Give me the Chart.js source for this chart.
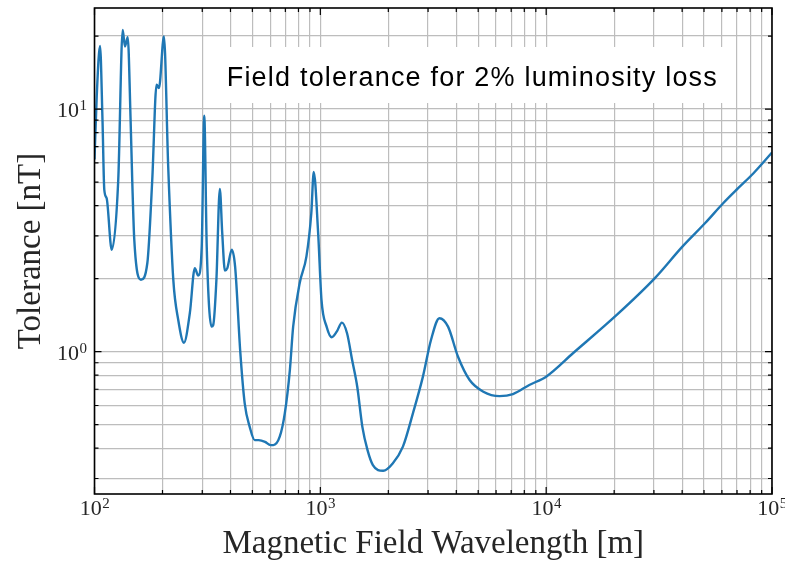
<!DOCTYPE html>
<html>
<head>
<meta charset="utf-8">
<script src="https://cdn.jsdelivr.net/npm/chart.js@4/dist/chart.umd.min.js"></script>
<style>
html, body { margin: 0; padding: 0; background: #fff; }
</style>
</head>
<body>
<canvas id="myChart" width="785" height="561"></canvas>
<script>
// wavelength [m] and tolerance [nT]
let wavelength = [100, 102.3, 105.8, 108.5, 110.5, 113.2, 119.2, 127.4, 133.3, 136.4, 140.3, 144.5, 147, 150,
    160.5, 171.4, 180.2, 188.3, 192.9, 203, 212, 223.3, 234.9, 248.9, 264.4, 278.1, 287.9, 298.4,
    306.2, 314, 329.9, 335.5, 346.6, 358.9, 367.8, 378, 387.4, 405.3, 419.4, 442, 462.5, 486.7,
    512, 533, 569, 602, 619, 661, 696, 733, 758, 810, 868, 912, 935, 978, 1012, 1066, 1123, 1182,
    1246, 1313, 1383, 1457, 1535, 1618, 1709, 1898, 2091, 2321, 2570, 2846, 3090, 3368, 3677,
    4071, 4582, 5269, 6220, 7130, 8420, 10000, 13140, 20530, 30300, 40100, 50600, 60900, 70800,
    82800, 100000];
let tolerance = [6.2, 11.3, 18.2, 9.0, 4.65, 4.29, 2.63, 5.11, 21.2, 18.1, 19.8, 9.0, 5.0, 2.9,
    1.98, 2.32, 5.11, 12.6, 12.2, 19.9, 5.8, 1.98, 1.35, 1.089, 1.445, 2.21, 2.06, 2.71,
    9.38, 2.71, 1.268, 1.288, 1.98, 4.68, 3.08, 2.16, 2.21, 2.63, 2.24, 1.0, 0.612, 0.49,
    0.432, 0.432, 0.425, 0.412, 0.412, 0.446, 0.557, 0.84, 1.268, 1.915, 2.47, 3.72, 5.5, 3.08, 1.63, 1.268, 1.147, 1.209,
    1.317, 1.191, 0.924, 0.717, 0.49, 0.393, 0.341, 0.323, 0.346, 0.406, 0.557, 0.789, 1.117, 1.374, 1.268,
    0.953, 0.764, 0.684, 0.656, 0.669, 0.729, 0.789, 0.985, 1.417, 2.01, 2.71, 3.39, 4.10, 4.72,
    5.44, 6.62];

let xTickValues = [100, 1000, 10000, 100000];
let xTickLabels = ["10^2", "10^3", "10^4", "10^5"];
let yTickValues = [1, 10];
let yTickLabels = ["10^0", "10^1"];

let noteText = "Field tolerance for 2% luminosity loss";

let points = wavelength.map((w, i) => ({x: w, y: tolerance[i]}));

// every 1..9 x 10^n between lo and hi, for the log grid
function logTicks(lo, hi) {
    let out = [];
    for (let e = Math.floor(Math.log10(lo)); e <= Math.ceil(Math.log10(hi)); e++) {
        for (let k = 1; k < 10; k++) {
            let v = k * Math.pow(10, e);
            if (v >= lo * 0.999 && v <= hi * 1.001) out.push(v);
        }
    }
    return out;
}

function isMajor(v) {
    let l = Math.log10(v);
    return Math.abs(l - Math.round(l)) < 1e-6;
}

const serif = "'Liberation Serif', 'DejaVu Serif', serif";
const baseFont = "22px " + serif;
const expFont = "15px " + serif;
const titleFont = {family: serif, size: 33};

// "10^n" drawn as base plus raised exponent; align is 'center' or 'right'
function drawPower(ctx, label, x, baseline, align) {
    let [b, e] = label.split("^");
    ctx.font = baseFont;
    let wb = ctx.measureText(b).width;
    ctx.font = expFont;
    let we = ctx.measureText(e).width;
    let x0 = align === "right" ? x - wb - we : x - (wb + we) / 2;
    ctx.font = baseFont;
    ctx.fillText(b, x0, baseline);
    ctx.font = expFont;
    ctx.fillText(e, x0 + wb + 0.5, baseline - 7);
}

const powerLabels = {
    id: "powerLabels",
    afterDraw(chart) {
        const {ctx, chartArea: a, scales} = chart;
        ctx.save();
        ctx.fillStyle = "#262626";
        ctx.textAlign = "left";
        ctx.textBaseline = "alphabetic";
        xTickValues.forEach((v, i) => {
            drawPower(ctx, xTickLabels[i], scales.x.getPixelForValue(v), a.bottom + 21, "center");
        });
        yTickValues.forEach((v, i) => {
            drawPower(ctx, yTickLabels[i], a.left - 8, scales.y.getPixelForValue(v) + 8, "right");
        });
        ctx.restore();
    }
};

const frameTicks = {
    id: "frameTicks",
    afterDraw(chart) {
        const {ctx, chartArea: a, scales} = chart;
        ctx.save();
        ctx.strokeStyle = "#000";
        ctx.lineWidth = 1.2;
        ctx.beginPath();
        scales.x.ticks.forEach(t => {
            let px = scales.x.getPixelForValue(t.value);
            let len = isMajor(t.value) ? 7 : 4;
            ctx.moveTo(px, a.bottom); ctx.lineTo(px, a.bottom - len);
            ctx.moveTo(px, a.top); ctx.lineTo(px, a.top + len);
        });
        scales.y.ticks.forEach(t => {
            let py = scales.y.getPixelForValue(t.value);
            let len = isMajor(t.value) ? 7 : 4;
            ctx.moveTo(a.left, py); ctx.lineTo(a.left + len, py);
            ctx.moveTo(a.right, py); ctx.lineTo(a.right - len, py);
        });
        ctx.stroke();
        ctx.lineWidth = 1.6;
        ctx.strokeRect(a.left, a.top, a.right - a.left, a.bottom - a.top);
        ctx.restore();
    }
};

const noteBox = {
    id: "noteBox",
    beforeDatasetsDraw(chart) {
        const {ctx, chartArea: a} = chart;
        let w = a.right - a.left;
        let bx = a.left + w * 0.173, by = a.top + 39;
        ctx.save();
        ctx.fillStyle = "#fff";
        ctx.fillRect(bx, by, w * 0.767, 56);
        ctx.fillStyle = "#000";
        ctx.font = "27px 'Liberation Sans', Arial, sans-serif";
        ctx.letterSpacing = "1.2px";
        ctx.textBaseline = "alphabetic";
        ctx.fillText(noteText, bx + 15, by + 39, 495);
        ctx.restore();
    }
};

new Chart("myChart", {
    type: "line",
    data: {
        datasets: [{
            data: points,
            borderColor: "#1f77b4",
            borderWidth: 2.4,
            pointRadius: 0,
            fill: false,
            cubicInterpolationMode: "monotone"
        }]
    },
    options: {
        responsive: false,
        animation: false,
        layout: {padding: {top: 8, right: 13, left: 0, bottom: 0}},
        plugins: {legend: {display: false}, tooltip: {enabled: false}},
        scales: {
            x: {
                type: "logarithmic",
                min: 100,
                max: 100000,
                afterBuildTicks: s => { s.ticks = logTicks(100, 100000).map(v => ({value: v})); },
                afterFit: s => { s.height = 67; s.paddingLeft = 0; s.paddingRight = 0; },
                grid: {color: "#bdbdbd", lineWidth: 1.2, drawTicks: false},
                border: {display: false},
                ticks: {display: false},
                title: {
                    display: true, text: "Magnetic Field Wavelength [m]",
                    font: titleFont, color: "#262626", padding: {top: 0, bottom: -3}
                }
            },
            y: {
                type: "logarithmic",
                min: 0.259,
                max: 26.1,
                afterBuildTicks: s => { s.ticks = logTicks(0.259, 26.1).map(v => ({value: v})); },
                afterFit: s => { s.width = 94.5; s.paddingTop = 0; s.paddingBottom = 0; },
                grid: {color: "#bdbdbd", lineWidth: 1.2, drawTicks: false},
                border: {display: false},
                ticks: {display: false},
                title: {
                    display: true, text: "Tolerance [nT]",
                    font: titleFont, color: "#262626", padding: {top: 12, bottom: 0}
                }
            }
        }
    },
    plugins: [noteBox, frameTicks, powerLabels]
});
</script>
</body>
</html>
